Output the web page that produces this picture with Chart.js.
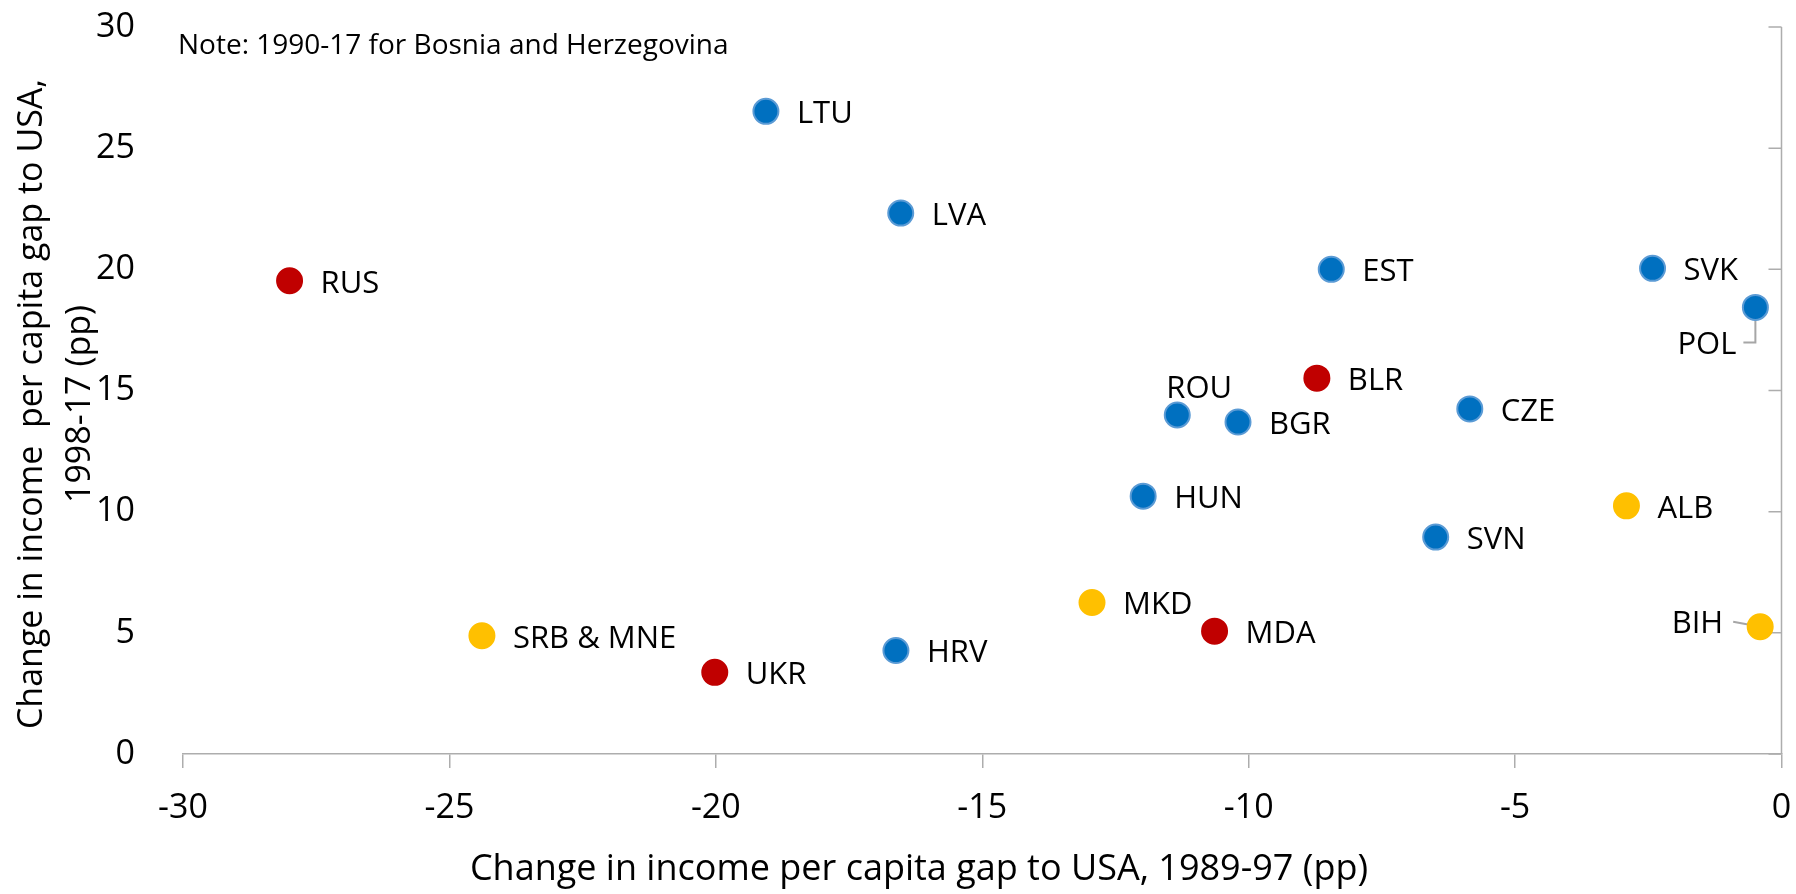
<!DOCTYPE html>
<html>
<head>
<meta charset="utf-8">
<script src="https://cdn.jsdelivr.net/npm/chart.js@4"></script>
<style>
  html, body { margin: 0; padding: 0; background: #fff; }
</style>
</head>
<body>
<canvas id="myChart" width="1796" height="894"></canvas>
<script>
// data
var countries = ["LTU", "LVA", "RUS", "EST", "SVK", "POL", "BLR", "ROU", "BGR", "CZE",
  "HUN", "ALB", "SVN", "MKD", "MDA", "SRB & MNE", "UKR", "HRV", "BIH"];
var gap8997 = [-19.06, -16.53, -28.0, -8.45, -2.42, -0.49, -8.72, -11.34, -10.2, -5.85,
  -11.98, -2.91, -6.49, -12.94, -10.64, -24.39, -20.02, -16.62, -0.4];
var gap9817 = [26.52, 22.32, 19.53, 20.0, 20.04, 18.43, 15.51, 13.99, 13.7, 14.24,
  10.64, 10.24, 8.95, 6.25, 5.07, 4.88, 3.37, 4.27, 5.25];
var groups = ["EU", "EU", "CIS", "EU", "EU", "EU", "CIS", "EU", "EU", "EU",
  "EU", "WB", "EU", "WB", "CIS", "WB", "CIS", "EU", "WB"];
var xTicks = [-30, -25, -20, -15, -10, -5, 0];
var yTicks = [0, 5, 10, 15, 20, 25, 30];
var note = "Note: 1990-17 for Bosnia and Herzegovina";
var xTitle = "Change in income per capita gap to USA, 1989-97 (pp)";
var yTitle = ["Change in income  per capita gap to USA,", "1998-17 (pp)"];

// styles
var fill = { EU: "#0070C0", CIS: "#C00000", WB: "#FFC000" };
var rim = { EU: "#5B9BD5", CIS: "#C00000", WB: "#FFC000" };
var axisColor = "#ADADAD";
var font = "'Open Sans', 'Noto Sans', sans-serif";

// label placement: dx/dy from the point centre
var placement = {
  ROU: { dx: 22, dy: -26, align: "center" },
  POL: { dx: -19, dy: 38, align: "right", leader: [[0, 0], [0, 35], [-12, 35]] },
  BIH: { dx: -37, dy: -3, align: "right", leader: [[-27, -5], [0, 0]] }
};

var points = countries.map(function (c, i) {
  return { x: gap8997[i], y: gap9817[i] };
});

var labelPlugin = {
  id: "labels",
  beforeDatasetsDraw: function (chart) {
    var ctx = chart.ctx, area = chart.chartArea, ys = chart.scales.y;
    ctx.save();
    ctx.strokeStyle = axisColor;
    ctx.lineWidth = 1.5;
    ctx.beginPath();
    ctx.moveTo(area.right, area.top);
    ctx.lineTo(area.right, area.bottom);
    yTicks.forEach(function (v) {
      var p = ys.getPixelForValue(v);
      ctx.moveTo(area.right - 13, p);
      ctx.lineTo(area.right, p);
    });
    ctx.stroke();

    // leader lines
    var meta = chart.getDatasetMeta(0);
    ctx.strokeStyle = "#A6A6A6";
    ctx.lineWidth = 2;
    countries.forEach(function (c, i) {
      var pl = placement[c];
      if (!pl || !pl.leader) return;
      var el = meta.data[i];
      ctx.beginPath();
      pl.leader.forEach(function (pt, k) {
        if (k === 0) ctx.moveTo(el.x + pt[0], el.y + pt[1]);
        else ctx.lineTo(el.x + pt[0], el.y + pt[1]);
      });
      ctx.stroke();
    });
    ctx.restore();
  },
  afterDraw: function (chart) {
    var ctx = chart.ctx;
    var meta = chart.getDatasetMeta(0);
    ctx.save();
    ctx.fillStyle = "#000";
    ctx.font = "31px " + font;
    ctx.textBaseline = "middle";
    countries.forEach(function (c, i) {
      var el = meta.data[i];
      var pl = placement[c] || { dx: 31, dy: 3, align: "left" };
      ctx.textAlign = pl.align;
      ctx.fillText(c, el.x + pl.dx, el.y + pl.dy);
    });

    // note
    ctx.font = "28px " + font;
    ctx.textAlign = "left";
    ctx.fillText(note, 178, 46);

    // axis titles
    ctx.font = "36px " + font;
    ctx.textAlign = "center";
    ctx.fillText(xTitle, 919, 870);
    ctx.font = "34px " + font;
    ctx.translate(0, 404);
    ctx.rotate(-Math.PI / 2);
    ctx.fillText(yTitle[0], 0, 32);
    ctx.fillText(yTitle[1], 0, 80);
    ctx.restore();
  }
};

var ctx = document.getElementById("myChart").getContext("2d");
var chart = new Chart(ctx, {
  type: "scatter",
  data: {
    datasets: [
      {
        label: "Income gap change",
        data: points,
        pointBackgroundColor: groups.map(function (g) { return fill[g]; }),
        pointBorderColor: groups.map(function (g) { return rim[g]; }),
        pointBorderWidth: 2,
        pointRadius: 12.5,
        pointHoverRadius: 12.5
      }
    ]
  },
  options: {
    responsive: false,
    animation: false,
    layout: { padding: 0 },
    plugins: {
      legend: { display: false },
      tooltip: { enabled: false }
    },
    scales: {
      x: {
        type: "linear",
        min: -30,
        max: 0,
        afterFit: function (s) {
          s.height = 140;
          s.paddingLeft = 0;
          s.paddingRight = 13;
        },
        afterBuildTicks: function (s) { s.ticks = xTicks.map(function (v) { return { value: v }; }); },
        grid: { drawOnChartArea: false, drawTicks: true, tickLength: 14, color: axisColor, lineWidth: 1.5 },
        border: { display: true, color: axisColor, width: 1.5 },
        ticks: { color: "#000", padding: 20, font: { family: font, size: 34 } }
      },
      y: {
        min: 0,
        max: 30,
        afterFit: function (s) {
          s.width = 183;
          s.paddingTop = 27;
          s.paddingBottom = 0;
        },
        afterBuildTicks: function (s) { s.ticks = yTicks.map(function (v) { return { value: v }; }); },
        grid: { display: false },
        border: { display: false },
        ticks: { color: "#000", padding: 40, font: { family: font, size: 34 } }
      }
    }
  },
  plugins: [labelPlugin]
});
</script>
</body>
</html>
